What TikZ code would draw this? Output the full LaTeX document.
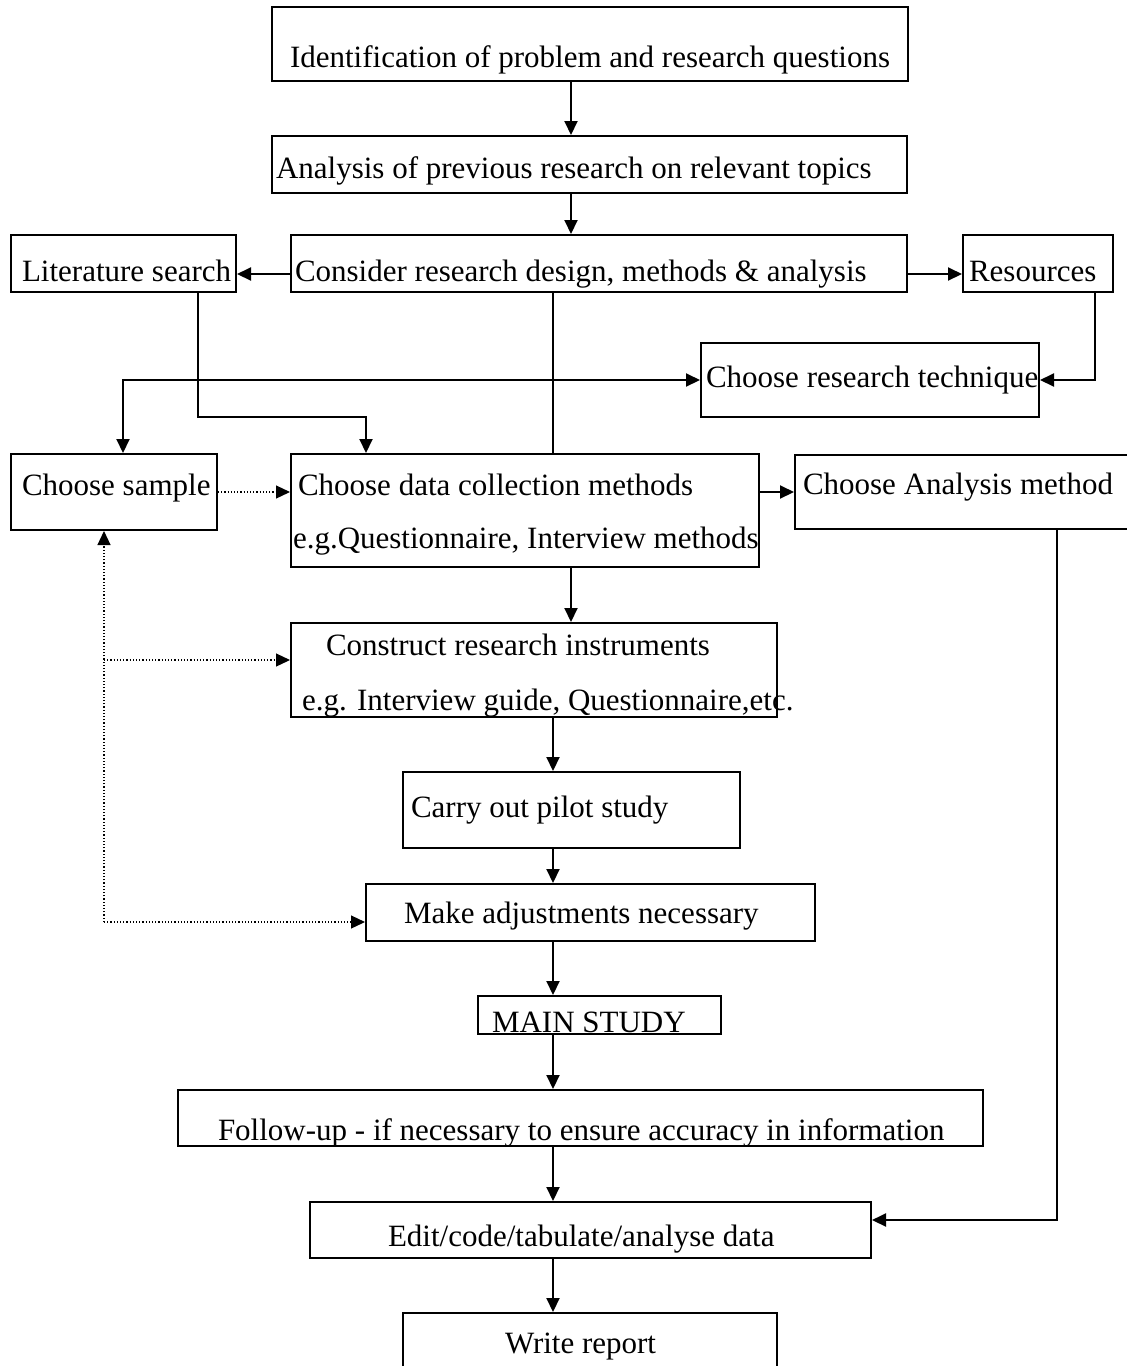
\documentclass[tikz,border=0pt]{standalone}
\usepackage{fontspec}
\setmainfont{Liberation Serif}
\usetikzlibrary{arrows.meta,fit}

\begin{document}
\begin{tikzpicture}[x=0.5pt,y=-0.5pt,>={Triangle[length=7pt,width=6.5pt]},line width=1pt,
  box/.style={draw,inner sep=0pt},
  txt/.style={inner sep=0pt,anchor=base west,font=\fontsize{15.5}{18}\selectfont},
  dots/.style={densely dotted,line width=0.6pt}]
\useasboundingbox (0,0) rectangle (1126,1366);
% boxes
\node[box,fit={(272,7) (908,81)}] (ident) {};
\node[box,fit={(272,136) (907,193)}] (prev) {};
\node[box,fit={(11,235) (236,292)}] (lit) {};
\node[box,fit={(291,235) (907,292)}] (design) {};
\node[box,fit={(963,235) (1113,292)}] (res) {};
\node[box,fit={(701,343) (1039,417)}] (tech) {};
\node[box,fit={(11,454) (217,530)}] (sample) {};
\node[box,fit={(291,454) (759,567)}] (data) {};
\node[box,fit={(795,455) (1140,529)}] (meth) {};
\node[box,fit={(291,623) (777,717)}] (instr) {};
\node[box,fit={(403,772) (740,848)}] (pilot) {};
\node[box,fit={(366,884) (815,941)}] (adjust) {};
\node[box,fit={(478,996) (721,1034)}] (main) {};
\node[box,fit={(178,1090) (983,1146)}] (follow) {};
\node[box,fit={(310,1202) (871,1258)}] (edit) {};
\node[box,fit={(403,1313) (777,1390)}] (report) {};
% texts
\node[txt] (ident-t) at (289,67) {Identification of problem and research questions};
\node[txt] (prev-t) at (275,178) {Analysis of previous research on relevant topics};
\node[txt] (lit-t) at (21,281) {Literature search};
\node[txt] (design-t) at (294,281) {Consider research design, methods \& analysis};
\node[txt] (res-t) at (968,281) {Resources};
\node[txt] (tech-t) at (705,387) {Choose research technique};
\node[txt] (sample-t) at (21,495) {Choose sample};
\node[txt] (data-t) at (297,495) {Choose data collection methods};
\node[txt] (data-t2) at (292,548) {e.g.Questionnaire, Interview methods};
\node[txt] (meth-t) at (802,494) {Choose Analysis method};
\node[txt] (instr-t) at (325,655) {Construct research instruments};
\node[txt] (instr-t2) at (301,710) {e.g. Interview guide, Questionnaire,etc.};
\node[txt] (pilot-t) at (410,817) {Carry out pilot study};
\node[txt] (adjust-t) at (403,923) {Make adjustments necessary};
\node[txt] (main-t) at (491,1032) {MAIN STUDY};
\node[txt] (follow-t) at (217,1140) {Follow-up - if necessary to ensure accuracy in information};
\node[txt] (edit-t) at (387,1246) {Edit/code/tabulate/analyse data};
\node[txt] (report-t) at (504,1353) {Write report};
% turning points
\coordinate (top) at (571,0);
\coordinate (spine) at (553,0);
\coordinate (row) at (0,274);
\coordinate (litcol) at (198,417);
\coordinate (bend) at (366,417);
\coordinate (techrow) at (123,380);
\coordinate (rescol) at (1095,0);
\coordinate (methturn) at (1057,1220);
\coordinate (loopmid) at (104,660);
\coordinate (loopbot) at (104,922);
% connectors
\draw[->] (ident.south -| top) -- (prev.north -| top);
\draw[->] (prev.south -| top) -- (design.north -| top);
\draw[->] (design.west |- row) -- (lit.east |- row);
\draw[->] (design.east |- row) -- (res.west |- row);
\draw[->] (res.south -| rescol) |- (tech.east);
\draw[<->] (sample.north -| techrow) |- (tech.west);
\draw[->] (lit.south -| litcol) -- (litcol) -- (bend) -- (data.north -| bend);
\draw (design.south -| spine) -- (data.north -| spine);
\draw[->] (data.east |- meth.west) -- (meth.west);
\draw[->] (data.south -| top) -- (instr.north -| top);
\draw[->] (instr.south -| spine) -- (pilot.north -| spine);
\draw[->] (pilot.south -| spine) -- (adjust.north -| spine);
\draw[->] (adjust.south -| spine) -- (main.north -| spine);
\draw[->] (main.south -| spine) -- (follow.north -| spine);
\draw[->] (follow.south -| spine) -- (edit.north -| spine);
\draw[->] (edit.south -| spine) -- (report.north -| spine);
\draw[->] (meth.south -| methturn) -- (methturn) -- (edit.east |- methturn);
% dotted feedback
\draw[dots,->] (sample.east) -- (data.west |- sample.east);
\draw[dots,->] (loopbot) -- (sample.south -| loopbot);
\draw[dots,->] (loopmid) -- (instr.west |- loopmid);
\draw[dots,->] (loopbot) -- (adjust.west |- loopbot);
\end{tikzpicture}
\end{document}
